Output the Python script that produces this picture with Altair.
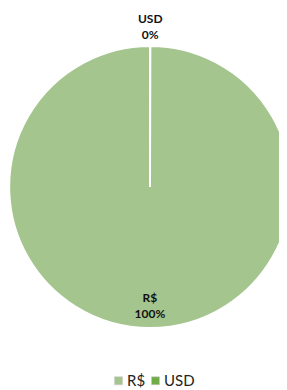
import altair as alt
import pandas as pd

categories = ["USD", "R$"]
values = [0.04, 99.96]
labels = ["USD\n0%", "R$\n100%"]
order = [0, 1]

df = pd.DataFrame({"cur": categories, "val": values, "lab": labels, "ord": order})

color_scale = alt.Scale(domain=["R$", "USD"], range=["#a4c58e", "#70ad47"])

base = alt.Chart(df).encode(
    theta=alt.Theta("val:Q", stack=True),
    order=alt.Order("ord:Q"),
)

arcs = base.mark_arc(stroke="white", strokeWidth=2).encode(
    x=alt.value(142),
    y=alt.value(179),
    radius=alt.value(141),
    color=alt.Color(
        "cur:N",
        scale=color_scale,
        legend=alt.Legend(
            title=None,
            orient="none",
            legendX=103,
            legendY=365,
            direction="horizontal",
            symbolType="square",
            symbolSize=64,
            symbolStrokeColor="#c8c8c8",
            symbolStrokeWidth=0.5,
            labelFont="Lato",
            labelFontSize=15,
            labelColor="#222222",
            columnPadding=2,
            labelOffset=1,
        ),
    ),
)

text_style = dict(
    font="Lato", fontSize=12, fontWeight="bold", color="#111111",
    lineBreak="\n", baseline="middle", align="center", lineHeight=16,
)

text_out = base.mark_text(**text_style).encode(
    x=alt.value(142),
    y=alt.value(179),
    radius=alt.value(168),
    text="lab:N",
    opacity=alt.condition(alt.datum.cur == "USD", alt.value(1), alt.value(0)),
)

text_in = base.mark_text(**text_style).encode(
    x=alt.value(142),
    y=alt.value(179),
    radius=alt.value(111),
    text="lab:N",
    opacity=alt.condition(alt.datum.cur == "R$", alt.value(1), alt.value(0)),
)

chart = (arcs + text_out + text_in).properties(
    width=271, height=381,
    autosize=alt.AutoSizeParams(type="none"),
    padding=0,
).configure_view(stroke=None)

chart.save("out.html", embed_options={"renderer": "svg", "actions": False})
